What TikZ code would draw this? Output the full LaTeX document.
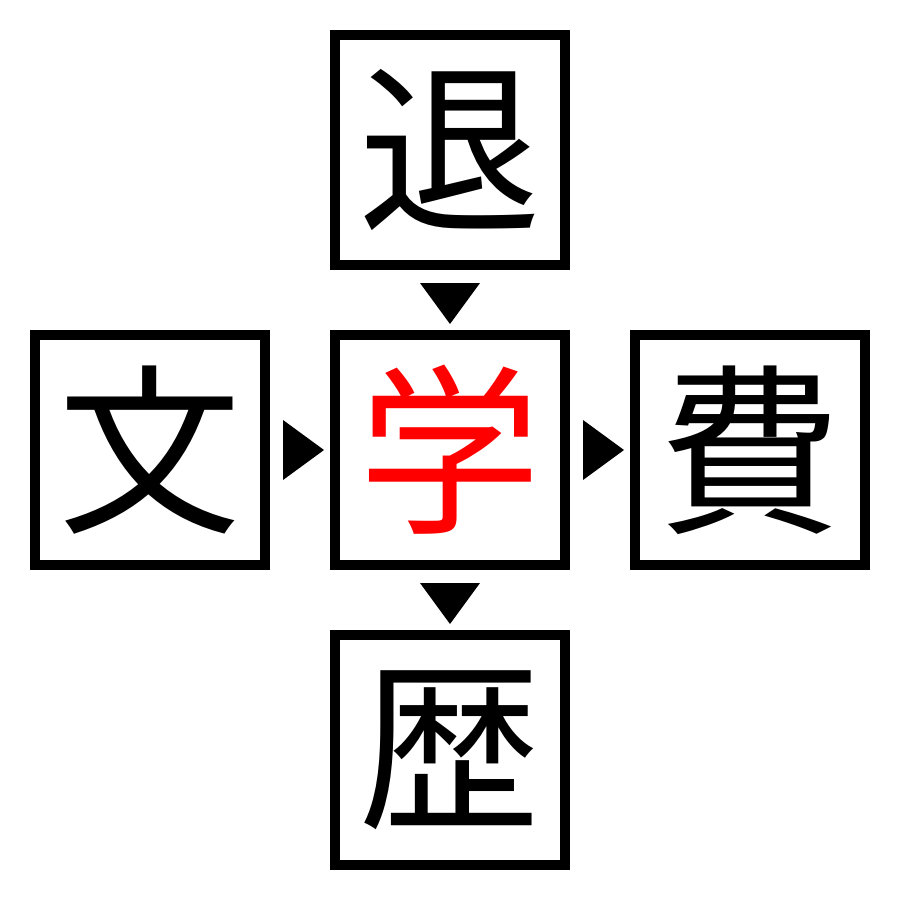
\documentclass[tikz,border=0pt]{standalone}
\usepackage{fontspec}
\newfontfamily\cjk{Noto Sans CJK JP}
\begin{document}
\begin{tikzpicture}[x=0.01cm,y=-0.01cm,
  kbox/.style={draw=black,line width=0.1cm,minimum size=2.3cm,inner sep=0pt,font=\cjk\fontsize{52}{52}\selectfont},
  tri/.style={fill=black,draw=none}]
\useasboundingbox (0,0) rectangle (900,900);
\node[kbox] (top) at (450,150) {退};
\node[kbox] (left) at (150,450) {文};
\node[kbox,text=red] (mid) at (450,450) {学};
\node[kbox] (right) at (750,450) {費};
\node[kbox] (bot) at (450,750) {歴};
\fill[tri] (420,283) -- (480,283) -- (450,324) -- cycle;
\fill[tri] (420,583) -- (480,583) -- (450,624) -- cycle;
\fill[tri] (283,420) -- (283,480) -- (324,450) -- cycle;
\fill[tri] (583,420) -- (583,480) -- (624,450) -- cycle;
\end{tikzpicture}
\end{document}
